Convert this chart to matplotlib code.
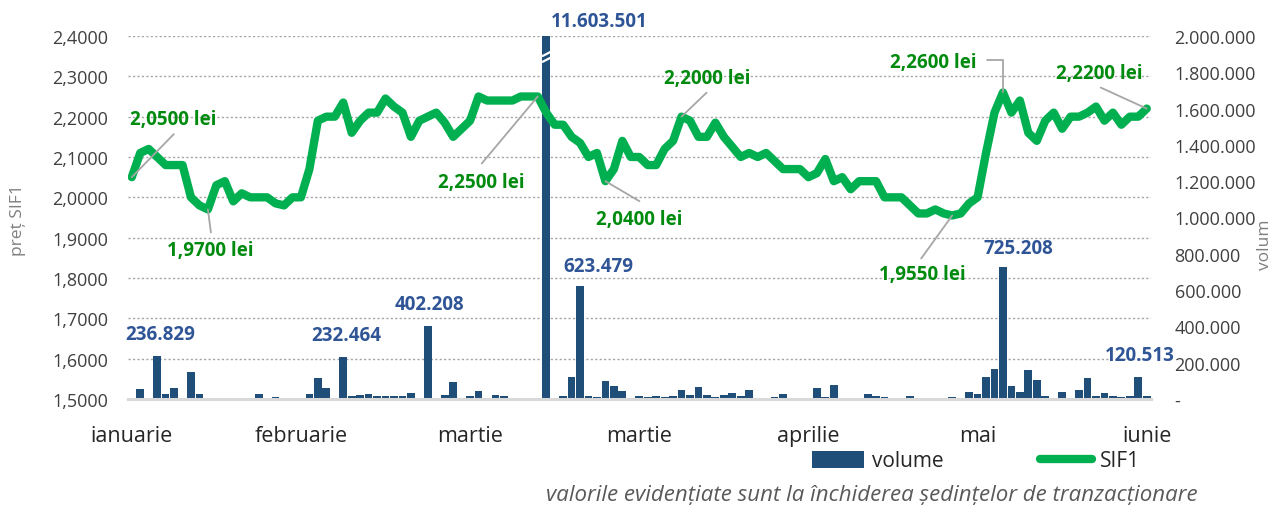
import matplotlib
matplotlib.use("Agg")
import matplotlib.pyplot as plt
from matplotlib.patches import Patch
from matplotlib.lines import Line2D
from matplotlib.transforms import blended_transform_factory
from matplotlib.ticker import FixedLocator, FuncFormatter

plt.rcParams['font.family'] = ['Open Sans', 'DejaVu Sans']

# ---------------- data ----------------
month_labels = ["ianuarie", "februarie", "martie", "martie", "aprilie", "mai", "iunie"]
month_positions = [0, 20, 40, 60, 80, 100, 120]

price = [
    2.05, 2.11, 2.12, 2.10, 2.08, 2.08, 2.08, 2.00, 1.98, 1.97,
    2.03, 2.04, 1.99, 2.01, 2.00, 2.00, 2.00, 1.985, 1.98, 2.00,
    2.00, 2.07, 2.19, 2.20, 2.20, 2.235, 2.16, 2.19, 2.21, 2.21,
    2.245, 2.225, 2.21, 2.15, 2.19, 2.20, 2.21, 2.185, 2.15, 2.17,
    2.19, 2.25, 2.24, 2.24, 2.24, 2.24, 2.25, 2.25, 2.25, 2.21,
    2.18, 2.18, 2.15, 2.135, 2.10, 2.11, 2.04, 2.07, 2.14, 2.10,
    2.10, 2.08, 2.08, 2.12, 2.14, 2.20, 2.19, 2.15, 2.15, 2.185,
    2.15, 2.125, 2.10, 2.11, 2.10, 2.11, 2.09, 2.07, 2.07, 2.07,
    2.05, 2.06, 2.095, 2.04, 2.05, 2.02, 2.04, 2.04, 2.04, 2.00,
    2.00, 2.00, 1.98, 1.96, 1.96, 1.97, 1.96, 1.955, 1.96, 1.985,
    2.00, 2.11, 2.21, 2.26, 2.21, 2.24, 2.16, 2.14, 2.19, 2.21,
    2.17, 2.20, 2.20, 2.21, 2.225, 2.19, 2.21, 2.18, 2.20, 2.20,
    2.22,
]

volume = [
    0, 55000, 4000, 236829, 26000, 59000, 0, 150000, 26000, 5000,
    0, 4000, 4000, 4000, 4000, 26000, 0, 10000, 0, 0,
    0, 26000, 115000, 60000, 8000, 232464, 15000, 22000, 26000, 16000,
    15000, 15000, 18000, 33000, 0, 402208, 0, 24000, 92000, 0,
    15000, 42000, 0, 20000, 18000, 0, 7000, 0, 5000, 11603501,
    0, 15000, 119000, 623479, 18000, 11000, 97000, 70000, 42000, 0,
    18000, 13000, 18000, 9000, 18000, 51000, 24000, 64000, 24000, 9000,
    20000, 33000, 15000, 51000, 0, 0, 11000, 28000, 2000, 5000,
    0, 59000, 11000, 77000, 5000, 0, 0, 28000, 17000, 11000,
    5000, 0, 15000, 4000, 0, 5000, 4000, 11000, 0, 37000,
    29000, 123000, 165000, 725208, 70000, 40000, 160000, 105000, 18000, 5000,
    37000, 0, 51000, 114000, 18000, 33000, 18000, 13000, 17000, 120513,
    17000,
]

price_ticks = [1.5, 1.6, 1.7, 1.8, 1.9, 2.0, 2.1, 2.2, 2.3, 2.4]
volume_ticks = [0, 200000, 400000, 600000, 800000, 1000000, 1200000,
                1400000, 1600000, 1800000, 2000000]

# annotated points: (index, text)
price_labels = [(0, "2,0500 lei"), (9, "1,9700 lei"), (48, "2,2500 lei"),
                (56, "2,0400 lei"), (65, "2,2000 lei"), (97, "1,9550 lei"),
                (103, "2,2600 lei"), (120, "2,2200 lei")]
volume_labels = [(3, "236.829"), (25, "232.464"), (35, "402.208"),
                 (49, "11.603.501"), (53, "623.479"), (103, "725.208"),
                 (119, "120.513")]

# ---------------- style ----------------
BAR_C = "#1F4E79"
LINE_C = "#00B050"
GREEN_TXT = "#008A0E"
BLUE_TXT = "#2F5597"
GREY = "#A6A6A6"
TICK_C = "#404040"

x = list(range(len(price)))

fig = plt.figure(figsize=(12.78, 5.06), dpi=100)
ax = fig.add_axes([0.0998, 0.2095, 0.8008, 0.7174])   # price (left)
ax2 = ax.twinx()                                       # volume (right)
ax.set_zorder(2)
ax2.set_zorder(1)
ax.patch.set_visible(False)

ax.set_xlim(-0.5, len(price) - 0.5)
ax.set_ylim(1.5, 2.4)
ax2.set_ylim(0, 2000000)

# gridlines (price levels) drawn behind bars
gtr = blended_transform_factory(ax2.transAxes, ax.transData)
for p in price_ticks[1:]:
    ax2.plot([0, 1], [p, p], transform=gtr, color=GREY, lw=1.0,
             ls=(0, (1.6, 1.6)), zorder=0.5)

# bars
ax2.bar(x, volume, width=0.92, color=BAR_C, zorder=2)

# axis break marks on the clipped bar
btr = blended_transform_factory(ax2.transData, ax2.transAxes)
big_i = volume.index(max(volume))
for y0 in (0.944, 0.928):
    ax2.plot([big_i - 0.5, big_i + 0.5], [y0, y0 + 0.012], transform=btr,
             color="white", lw=1.6, zorder=3, solid_capstyle="butt")

# price line
ax.plot(x, price, color=LINE_C, lw=6.0, solid_joinstyle="round",
        solid_capstyle="round", zorder=3)

# spines
for a in (ax, ax2):
    for s in ("top", "left", "right", "bottom"):
        a.spines[s].set_visible(False)
ax2.spines["bottom"].set_visible(True)
ax2.spines["bottom"].set_color("#D9D9D9")
ax2.spines["bottom"].set_linewidth(2.2)

# ticks
ax.yaxis.set_major_locator(FixedLocator(price_ticks))
ax.yaxis.set_major_formatter(FuncFormatter(lambda v, _: f"{v:.4f}".replace(".", ",")))
ax.tick_params(axis="y", length=0, pad=14, labelsize=13, labelcolor=TICK_C)

ax2.yaxis.set_major_locator(FixedLocator(volume_ticks))
ax2.yaxis.set_major_formatter(FuncFormatter(
    lambda v, _: "-" if v == 0 else f"{v:,.0f}".replace(",", ".")))
ax2.tick_params(axis="y", length=0, pad=17, labelsize=13, labelcolor=TICK_C)

ax.xaxis.set_major_locator(FixedLocator(month_positions))
ax.set_xticklabels(month_labels)
ax.tick_params(axis="x", length=0, pad=19, labelsize=15.5, labelcolor="#262626")
ax2.tick_params(axis="x", length=0, labelbottom=False)

# axis titles
fig.text(18 / 1278, 1 - 220 / 506, "preț SIF1", rotation=90, ha="center",
         va="center", fontsize=12.5, color="#7F7F7F")
fig.text(1265 / 1278, 1 - 245 / 506, "volum", rotation=90, ha="center",
         va="center", fontsize=12.5, color="#7F7F7F")

# price annotations: text offset, leader end offset (pixels)
price_offsets = {
    0: ((41, 58), (42, 43)),
    9: ((2, -41), (3, -23)),
    48: ((-57, -86), (-56, -67)),
    56: ((34, -38), (34, -20)),
    65: ((26, 39), (25, 24)),
    97: ((-30, -59), (-31, -43)),
    103: ((-70, 30), (-16, 32)),
    120: ((-47, 36), (-46, 21)),
}
for i, txt in price_labels:
    toff, loff = price_offsets[i]
    ax.annotate(txt, xy=(i, price[i]), xytext=toff, textcoords="offset pixels",
                ha="center", va="center", fontsize=13.5, fontweight="bold",
                color=GREEN_TXT, zorder=5)
    if i == 103:
        cs = "angle,angleA=0,angleB=90,rad=0"
    else:
        cs = "arc3"
    ax.annotate("", xy=(i, price[i]), xytext=loff, textcoords="offset pixels",
                arrowprops=dict(arrowstyle="-", color=GREY, lw=1.3,
                                shrinkA=0, shrinkB=0, connectionstyle=cs),
                zorder=4)

# volume annotations
vol_offsets = {3: (3, 22), 25: (3, 22), 35: (2, 22), 49: (53, 15),
               53: (18, 20), 103: (15, 19), 119: (2, 22)}
vmax = 2000000
for i, txt in volume_labels:
    ax2.annotate(txt, xy=(i, min(volume[i], vmax)), xytext=vol_offsets[i],
                 textcoords="offset pixels", ha="center", va="center",
                 fontsize=13.5, fontweight="bold", color=BLUE_TXT,
                 annotation_clip=False, zorder=5)

# legend
handles = [Patch(facecolor=BAR_C, edgecolor="none"),
           Line2D([0], [0], color=LINE_C, lw=6, solid_capstyle="round")]
fig.legend(handles, ["volume", "SIF1"], loc="center",
           bbox_to_anchor=(976 / 1278, 1 - 462 / 506), ncol=2, frameon=False,
           fontsize=15, handlelength=2.5, handleheight=0.9,
           handletextpad=0.4, columnspacing=4.6, labelcolor="#262626")

# footnote
fig.text(1198 / 1278, 1 - 496 / 506,
         "valorile evidențiate sunt la închiderea ședințelor de tranzacționare",
         ha="right", va="center", fontsize=16, style="italic", color="#595959")

fig.savefig("out.png", dpi=100)
